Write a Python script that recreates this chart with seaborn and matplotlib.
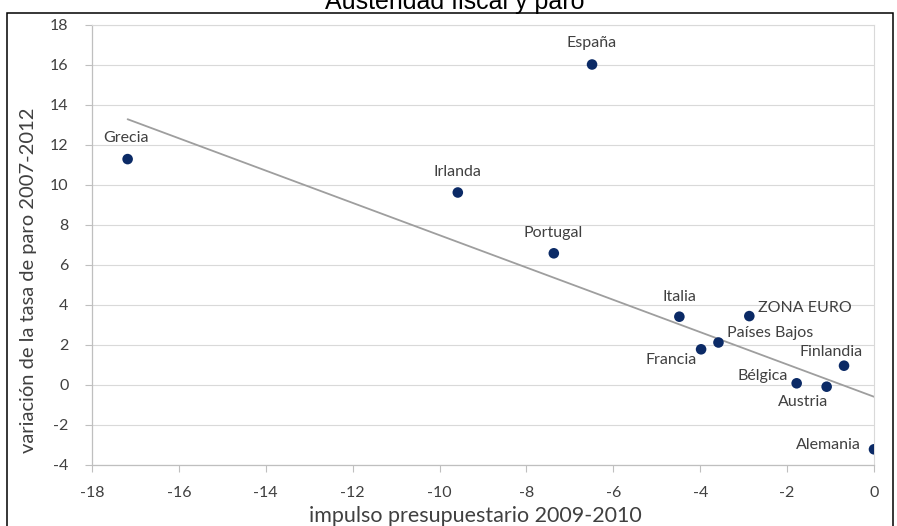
import matplotlib
matplotlib.use("Agg")
import matplotlib.pyplot as plt
from matplotlib.patches import Rectangle
import seaborn as sns
import pandas as pd

# ---- data ----
paises = ["Grecia", "Irlanda", "Portugal", "España", "Italia", "ZONA EURO",
          "Países Bajos", "Francia", "Bélgica", "Austria", "Finlandia", "Alemania"]
impulso = [-17.18, -9.58, -7.37, -6.49, -4.48, -2.87, -3.58, -3.98, -1.78, -1.09, -0.69, 0.0]
paro = [11.27, 9.6, 6.56, 16.0, 3.39, 3.42, 2.1, 1.76, 0.06, -0.11, 0.94, -3.24]
xticks = [-18, -16, -14, -12, -10, -8, -6, -4, -2, 0]
yticks = [-4, -2, 0, 2, 4, 6, 8, 10, 12, 14, 16, 18]
titulo = "Austeridad fiscal y paro"
xlabel = "impulso presupuestario 2009-2010"
ylabel = "variación de la tasa de paro 2007-2012"

df = pd.DataFrame({"pais": paises, "impulso": impulso, "paro": paro})

# label offsets in pixels (dx, dy up positive), alignment
label_pos = {
    "Grecia": (-2, 21, "center", "center"),
    "Irlanda": (0, 20, "center", "center"),
    "Portugal": (-1, 20, "center", "center"),
    "España": (0, 21, "center", "center"),
    "Italia": (0, 20, "center", "center"),
    "ZONA EURO": (9, 8, "left", "center"),
    "Países Bajos": (9, 9, "left", "center"),
    "Francia": (-4, -11, "right", "center"),
    "Bélgica": (-9, 7, "right", "center"),
    "Austria": (-24, -15, "center", "center"),
    "Finlandia": (-13, 14, "center", "center"),
    "Alemania": (-13, 4, "right", "center"),
}

W, H = 897, 526
sns.set_theme(style="white")
plt.rcParams["font.family"] = ["Lato", "DejaVu Sans"]
plt.rcParams["axes.unicode_minus"] = False

fig = plt.figure(figsize=(W / 100, H / 100), dpi=100)
ax = fig.add_axes([92 / W, (H - 464.5) / H, 782 / W, 440 / H])

# trend line (fit drawn over the countries, as in the reference)
sns.regplot(data=df[df["pais"] != "España"], x="impulso", y="paro", ax=ax,
            scatter=False, ci=None, truncate=True,
            line_kws={"color": "#9e9e9e", "lw": 1.3, "zorder": 2})
sns.scatterplot(data=df, x="impulso", y="paro", ax=ax, s=58,
                color="#0b2a66", edgecolor="none", zorder=3)

px = 0.72
for p, x, y in zip(paises, impulso, paro):
    dx, dy, ha, va = label_pos[p]
    ax.annotate(p, (x, y), xytext=(dx * px, dy * px), textcoords="offset points",
                ha=ha, va=va, fontsize=11.5, color="#404040", zorder=4)

ax.set_xlim(-18, 0)
ax.set_ylim(-4, 18)
ax.set_xticks(xticks)
ax.set_yticks(yticks)
ax.set_xticklabels([str(v) for v in xticks])
ax.set_yticklabels([str(v) for v in yticks])
ax.set_xlabel("")
ax.set_ylabel("")
ax.yaxis.grid(True, color="#d9d9d9", lw=0.8)
ax.xaxis.grid(False)
ax.set_axisbelow(True)
for side in ["left", "bottom"]:
    ax.spines[side].set_color("#bfbfbf")
    ax.spines[side].set_linewidth(0.9)
for side in ["top", "right"]:
    ax.spines[side].set_color("#d9d9d9")
    ax.spines[side].set_linewidth(0.8)
ax.tick_params(axis="both", which="major", length=5, width=0.8, color="#bfbfbf",
               labelsize=11.5, labelcolor="#404040", direction="out")
ax.tick_params(axis="y", pad=12, left=True)
ax.tick_params(axis="x", pad=10.5, bottom=True)

# outer black frame
fig.patches.append(Rectangle((7 / W, -0.1), (893 - 7) / W, 1 - 12.5 / H + 0.1,
                             transform=fig.transFigure, fill=False,
                             edgecolor="black", lw=1.1, zorder=0))

fig.text(455 / W, 1 - 9.5 / H, titulo, ha="center", va="baseline",
         fontsize=18, color="black", family=["Liberation Sans", "DejaVu Sans"])
fig.text(475 / W, 1 - 522 / H, xlabel, ha="center", va="baseline",
         fontsize=15.5, color="#404040")
fig.text(29 / W, 1 - 280 / H, ylabel, ha="center", va="center", rotation=90,
         fontsize=14.5, color="#404040")

fig.savefig("out.png", dpi=100)
